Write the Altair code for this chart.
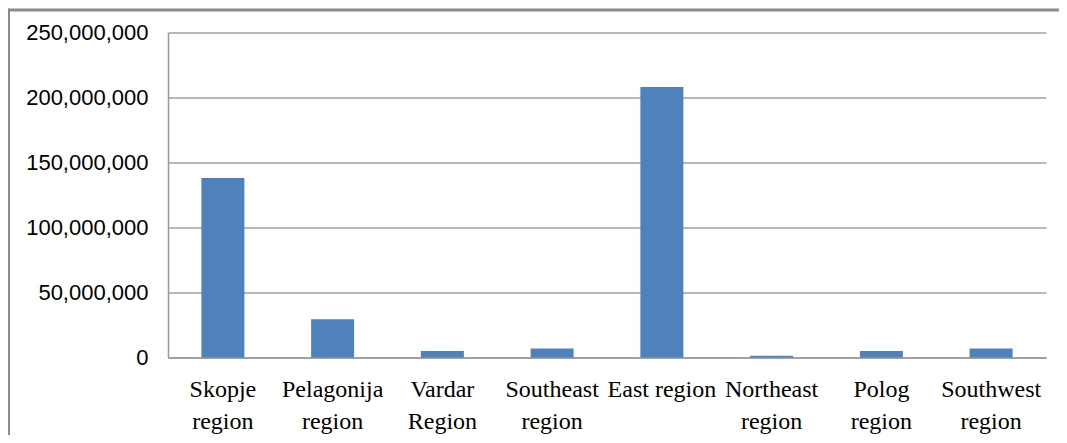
import altair as alt
import pandas as pd

regions = ["Skopje region", "Pelagonija region", "Vardar Region", "Southeast region",
           "East region", "Northeast region", "Polog region", "Southwest region"]
values = [138000000, 29500000, 5000000, 7000000, 208000000, 1400000, 5000000, 7000000]
y_ticks = [0, 50000000, 100000000, 150000000, 200000000, 250000000]

df = pd.DataFrame({"region": regions, "value": values})

bars = alt.Chart(df).mark_bar(color="#4F81BD", size=43).encode(
    x=alt.X("region:N", sort=regions, title=None,
            scale=alt.Scale(paddingInner=0, paddingOuter=0),
            axis=alt.Axis(labelAngle=0, labelFont="Liberation Serif", labelFontSize=24,
                          labelColor="black", labelLineHeight=32, labelPadding=20,
                          labelBaseline="top", ticks=False, domainColor="#999999",
                          domainWidth=1.5, labelLimit=200,
                          labelExpr="datum.label == 'East region' ? datum.label : split(datum.label, ' ')")),
    y=alt.Y("value:Q", title=None,
            scale=alt.Scale(domain=[0, 250000000], nice=False),
            axis=alt.Axis(values=y_ticks, format=",d", labelFont="Liberation Sans",
                          labelFontSize=22, labelColor="black", labelPadding=20, ticks=False,
                          domainColor="#999999", domainWidth=1.5, gridColor="#a0a0a0",
                          gridWidth=1.5)),
)

frame_df = pd.DataFrame({"a": [0]})
top_line = alt.Chart(frame_df).mark_rule(color="#8c8c8c", strokeWidth=3).encode(
    x=alt.value(-160), x2=alt.value(900), y=alt.value(-22.5))
left_line = alt.Chart(frame_df).mark_rule(color="#8c8c8c", strokeWidth=3).encode(
    x=alt.value(-159.5), y=alt.value(-24), y2=alt.value(420))

chart = alt.layer(bars, top_line, left_line).properties(
    width=878, height=325,
    autosize=alt.AutoSizeParams(type="none"),
    padding={"left": 160, "top": 24.5, "right": 13, "bottom": 77},
    background="white",
).configure_view(stroke=None)

chart.save("out.html", embed_options={"renderer": "svg", "actions": False})
